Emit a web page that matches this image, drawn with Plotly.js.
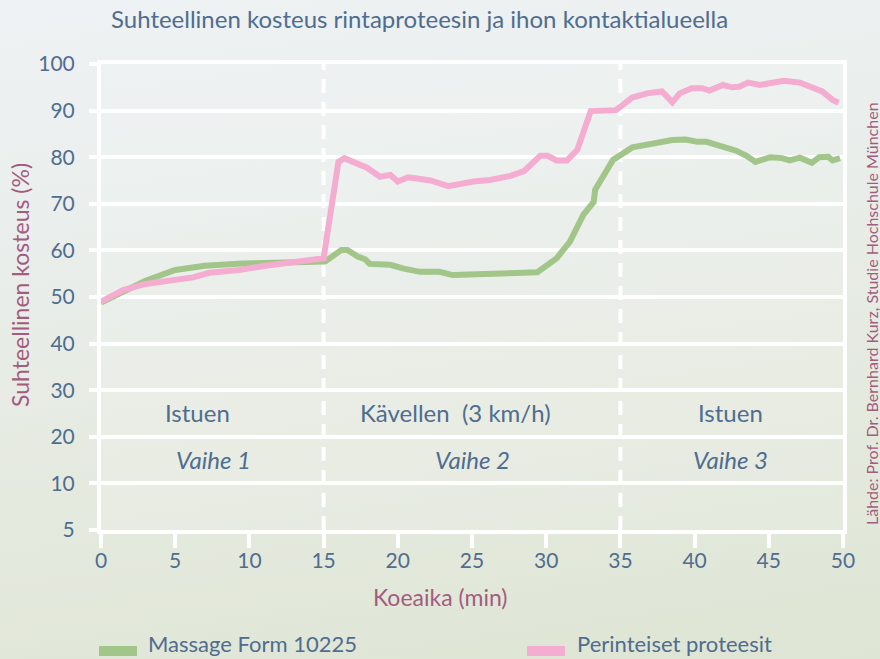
<!DOCTYPE html>
<html>
<head>
<meta charset="utf-8">
<script src="https://cdn.plot.ly/plotly-3.0.1.min.js"></script>
<style>
html, body { margin:0; padding:0; }
body { width:880px; height:659px; overflow:hidden;
  background: linear-gradient(172deg, #eef2f4 0%, #eaeeec 30%, #e5eadf 65%, #dee5d4 100%); }
#chart { width:880px; height:659px; }
</style>
</head>
<body>
<div id="chart"></div>
<script>
// Time (min) and relative humidity (%)
const massageTime = [0,1.4,3,5,7,9.5,12.2,15.1,16.2,16.6,17.3,17.8,18.1,19.5,20.4,21.5,22.8,23.7,25.3,27.6,29.4,30.7,31.6,32.5,33.2,33.3,33.9,34.5,35.8,37.2,38.5,39.4,40.2,40.8,41.8,42.8,43.5,44.1,45.1,45.9,46.4,47.1,47.9,48.4,49.0,49.3,49.8];
const massageHum  = [48.8,51.1,53.5,55.8,56.7,57.2,57.4,57.6,60.1,60.1,58.7,58.1,57.1,56.9,56.1,55.4,55.4,54.7,54.9,55.1,55.3,58.3,61.9,67.6,70.4,73.0,76.5,79.4,82.1,83.1,83.7,83.8,83.3,83.3,82.4,81.4,80.3,79.0,80.0,79.8,79.3,79.9,78.8,80.0,80.1,79.3,79.8];
const classicTime = [0,1.5,3.0,4.8,6.2,7.3,9.3,11.1,13.1,15.0,16.0,16.4,17.5,17.9,18.8,19.5,20.0,20.7,22.2,23.4,25.1,26.2,27.6,28.5,29.6,30.1,30.7,31.4,32.1,33.0,34.7,35.8,36.8,37.8,38.5,39.0,39.8,40.5,41.0,41.9,42.5,43.0,43.6,44.4,46.0,47.1,47.8,48.6,49.3,49.7];
const classicHum  = [49.0,51.5,52.8,53.6,54.2,55.2,55.8,56.7,57.4,58.3,79.0,79.8,78.3,77.8,75.8,76.2,74.8,75.7,75.0,73.8,74.8,75.1,76.0,77.0,80.3,80.3,79.3,79.3,81.6,89.9,90.1,92.8,93.7,94.1,91.8,93.7,94.8,94.8,94.3,95.5,95.0,95.1,96.0,95.5,96.4,96.0,95.1,94.1,92.3,91.7];

const seriesNames = ["Massage Form 10225", "Perinteiset proteesit"];
const xTicks = [0,5,10,15,20,25,30,35,40,45,50];
const yTickVals = [0,10,20,30,40,50,60,70,80,90,100];
const yTickText = ["5","10","20","30","40","50","60","70","80","90","100"];
const phaseBounds = [15, 35];
const phaseLabels = ["Istuen", "Kävellen&nbsp;&nbsp;(3 km/h)", "Istuen"];
const phaseNames = ["Vaihe 1", "Vaihe 2", "Vaihe 3"];
const phaseLabelX = [6.5, 23.9, 42.4];
const phaseNameX = [7.6, 25.0, 42.4];

const FONT = "Lato, 'Open Sans', sans-serif";
const BLUE = "#4f6d8f";
const MAUVE = "#a35c80";
const GREEN = "#a2c589";
const PINK = "#f4acd0";
const seriesColors = [GREEN, PINK];

const traces = [
  {x: massageTime, y: massageHum, name: seriesNames[0], mode: "lines",
   line: {color: GREEN, width: 6}},
  {x: classicTime, y: classicHum, name: seriesNames[1], mode: "lines",
   line: {color: PINK, width: 6}}
];

// plot-area pixel helpers for paper coordinates (plot: x 101..843, y 64..530)
const px = v => (v - 101) / 742;
const py = v => (530 - v) / 466;

const shapes = phaseBounds.map(b => ({
  type: "line", xref: "x", yref: "paper", x0: b, x1: b, y0: 0, y1: 1,
  line: {color: "white", width: 4, dash: "14px,9px"}, layer: "below"
}));

const annotations = [];
phaseLabels.forEach((t, i) => annotations.push({
  x: phaseLabelX[i], y: py(412), xref: "x", yref: "paper", xanchor: "center", yanchor: "middle",
  text: t, showarrow: false, font: {family: FONT, size: 24, color: BLUE}
}));
phaseNames.forEach((t, i) => annotations.push({
  x: phaseNameX[i], y: py(459), xref: "x", yref: "paper", xanchor: "center", yanchor: "middle",
  text: "<i>" + t + "</i>", showarrow: false, font: {family: FONT, size: 24, color: BLUE}
}));
annotations.push({
  x: px(419), y: py(19), xref: "paper", yref: "paper", xanchor: "center", yanchor: "middle",
  text: "Suhteellinen kosteus rintaproteesin ja ihon kontaktialueella", showarrow: false,
  font: {family: FONT, size: 24, color: BLUE}
});
annotations.push({
  x: px(440), y: py(597), xref: "paper", yref: "paper", xanchor: "center", yanchor: "middle",
  text: "Koeaika (min)", showarrow: false, font: {family: FONT, size: 23, color: MAUVE}
});
annotations.push({
  x: px(20), y: py(285), xref: "paper", yref: "paper", xanchor: "center", yanchor: "middle",
  text: "Suhteellinen kosteus (%)", showarrow: false, textangle: -90,
  font: {family: FONT, size: 23, color: MAUVE}
});
annotations.push({
  x: px(871), y: py(314), xref: "paper", yref: "paper", xanchor: "center", yanchor: "middle",
  text: "Lähde: Prof. Dr. Bernhard Kurz, Studie Hochschule München", showarrow: false, textangle: -90,
  font: {family: FONT, size: 16, color: MAUVE}
});

// legend (swatch + label) along the bottom
const legendSwatchX = [99, 527];
const legendTextX = [146, 575];
seriesNames.forEach((n, i) => {
  shapes.push({type: "rect", xref: "paper", yref: "paper",
    x0: px(legendSwatchX[i]), x1: px(legendSwatchX[i] + 38), y0: py(656), y1: py(646),
    line: {width: 0}, fillcolor: seriesColors[i]});
  annotations.push({x: px(legendTextX[i]), y: py(643), xref: "paper", yref: "paper",
    xanchor: "left", yanchor: "middle", text: n, showarrow: false,
    font: {family: FONT, size: 22, color: BLUE}});
});

const layout = {
  width: 880, height: 659,
  margin: {l: 101, r: 37, t: 64, b: 129},
  paper_bgcolor: "rgba(0,0,0,0)",
  plot_bgcolor: "rgba(255,255,255,0.12)",
  showlegend: false,
  xaxis: {range: [0, 50], tickvals: xTicks, showgrid: false, zeroline: false,
    showline: true, linecolor: "white", linewidth: 4, mirror: true,
    ticks: "outside", ticklen: 14, tickwidth: 4, tickcolor: "white", ticklabelstandoff: -5,
    tickfont: {family: FONT, size: 21, color: BLUE}},
  yaxis: {range: [0, 100], tickvals: yTickVals, ticktext: yTickText,
    showgrid: true, gridcolor: "white", gridwidth: 4, zeroline: false,
    showline: true, linecolor: "white", linewidth: 4, mirror: true,
    ticks: "outside", ticklen: 8, tickwidth: 4, tickcolor: "white", ticklabelstandoff: 10,
    tickfont: {family: FONT, size: 21, color: BLUE}},
  shapes: shapes,
  annotations: annotations
};

Plotly.newPlot("chart", traces, layout, {displayModeBar: false, staticPlot: true});
</script>
</body>
</html>
